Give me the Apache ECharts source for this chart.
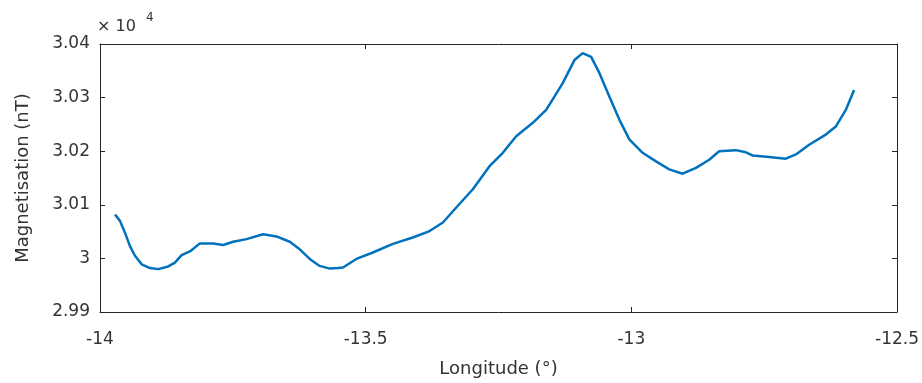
<!DOCTYPE html>
<html>
<head>
<meta charset="utf-8">
<script src="https://cdn.jsdelivr.net/npm/echarts@6/dist/echarts.min.js"></script>
<style>html,body{margin:0;padding:0;background:#fff;}#c{width:922px;height:383px;}</style>
</head>
<body>
<div id="c"></div>
<script>
// Longitude (°)
const longitude = [
  -13.9718, -13.9624, -13.9530, -13.9436, -13.9342, -13.9216, -13.9060, -13.8904,
  -13.8716, -13.8590, -13.8464, -13.8308, -13.8120, -13.7870, -13.7682, -13.7494,
  -13.7243, -13.6930, -13.6679, -13.6429, -13.6241, -13.6053, -13.5865, -13.5677,
  -13.5521, -13.5427, -13.5175, -13.4865, -13.4487, -13.4113, -13.3797, -13.3547,
  -13.3295, -13.2983, -13.2669, -13.2419, -13.2167, -13.1855, -13.1603, -13.1541,
  -13.1291, -13.1071, -13.0915, -13.0757, -13.0602, -13.0414, -13.0226, -13.0038,
  -12.9788, -12.9536, -12.9286, -12.9035, -12.8784, -12.8534, -12.8346, -12.8032,
  -12.7844, -12.7720, -12.7406, -12.7093, -12.6903, -12.6654, -12.6340, -12.6152,
  -12.5964, -12.5808
];
// Magnetisation (nT)
const magnetisation = [
  30082, 30070, 30048, 30023, 30005, 29989, 29982, 29980,
  29985, 29992, 30006, 30013, 30028, 30028, 30025, 30031,
  30036, 30045, 30041, 30031, 30017, 29999, 29986, 29981,
  29982, 29983, 29999, 30011, 30027, 30039, 30051, 30067,
  30095, 30129, 30172, 30197, 30228, 30253, 30277, 30287,
  30327, 30370, 30383, 30376, 30346, 30302, 30259, 30222,
  30197, 30181, 30166, 30158, 30169, 30184, 30200, 30202,
  30198, 30192, 30189, 30186, 30194, 30212, 30231, 30246,
  30277, 30314
];
const xTicks = [-14, -13.5, -13, -12.5];
const yTickLabels = ['2.99', '3', '3.01', '3.02', '3.03', '3.04'];

const FONT = 'DejaVu Sans';
const TXT = '#333333';
const AX = '#262626';
const chart = echarts.init(document.getElementById('c'), null, {renderer: 'canvas'});
const pts = longitude.map((x, i) => [x, magnetisation[i]]);
const axLine = {show: true, lineStyle: {color: AX, width: 1}};
const tick = {show: true, inside: true, length: 5, lineStyle: {color: AX, width: 1}};
chart.setOption({
  animation: false,
  grid: {left: 100, right: 24, top: 44, bottom: 70, containLabel: false},
  xAxis: [{
    type: 'value', min: -14, max: -12.5, interval: 0.5, position: 'bottom',
    axisLine: axLine, axisTick: tick, splitLine: {show: false},
    axisLabel: {margin: 19, color: TXT, fontFamily: FONT, fontSize: 17,
      formatter: v => String(xTicks.find(t => Math.abs(t - v) < 1e-6) ?? v)},
    name: 'Longitude (°)', nameLocation: 'middle', nameGap: 48,
    nameTextStyle: {color: TXT, fontFamily: FONT, fontSize: 18}
  }, {
    type: 'value', min: -14, max: -12.5, interval: 0.5, position: 'top',
    axisLine: axLine, axisTick: tick, axisLabel: {show: false}, splitLine: {show: false}
  }],
  yAxis: [{
    type: 'value', min: 29900, max: 30400, interval: 100, position: 'left',
    axisLine: axLine, axisTick: tick, splitLine: {show: false},
    axisLabel: {margin: 10, color: TXT, fontFamily: FONT, fontSize: 17,
      formatter: v => yTickLabels[Math.round((v - 29900) / 100)]},
    name: 'Magnetisation (nT)', nameLocation: 'middle', nameGap: 68, nameRotate: 90,
    nameTextStyle: {color: TXT, fontFamily: FONT, fontSize: 18}
  }, {
    type: 'value', min: 29900, max: 30400, interval: 100, position: 'right',
    axisLine: axLine, axisTick: tick, axisLabel: {show: false}, splitLine: {show: false}
  }],
  graphic: [
    {type: 'text', left: 97, top: 19, style: {text: '× 10', fill: TXT, font: '16px "DejaVu Sans"'}},
    {type: 'text', left: 146, top: 12, style: {text: '4', fill: TXT, font: '12px "DejaVu Sans"'}}
  ],
  series: [{
    type: 'line', data: pts, showSymbol: false, smooth: false,
    lineStyle: {color: '#0072BD', width: 2.5}
  }]
});
</script>
</body>
</html>
